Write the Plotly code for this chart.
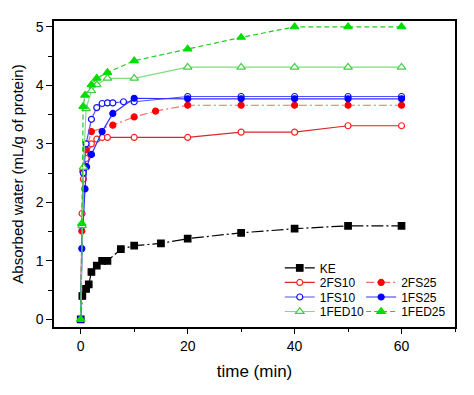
import plotly.graph_objects as go

# ---- data ----
ke_t = [0, 0.3, 1, 1.5, 2, 3, 4, 5, 7.5, 10, 15, 20, 30, 40, 50, 60]
ke_v = [0, 0.40, 0.52, 0.60, 0.81, 0.92, 1.00, 1.00, 1.20, 1.26, 1.30, 1.38, 1.48, 1.55, 1.60, 1.60]

fs2_10_t = [0, 0.25, 0.5, 1, 2, 3, 4, 5, 10, 20, 30, 40, 50, 60]
fs2_10_v = [0, 1.81, 2.40, 2.75, 3.00, 3.08, 3.11, 3.11, 3.11, 3.11, 3.20, 3.20, 3.31, 3.31]

fs2_25_t = [0, 0.2, 0.4, 1, 2, 6, 10, 14, 20, 30, 40, 50, 60]
fs2_25_v = [0, 1.51, 2.53, 2.90, 3.21, 3.32, 3.46, 3.56, 3.66, 3.66, 3.66, 3.66, 3.66]

fs1_10_t = [0, 0.25, 0.5, 1, 2, 3, 4, 5, 6, 8, 10, 20, 30, 40, 50, 60]
fs1_10_v = [0, 1.60, 2.50, 3.00, 3.42, 3.62, 3.69, 3.70, 3.70, 3.72, 3.72, 3.81, 3.81, 3.81, 3.81, 3.81]

fs1_25_t = [0, 0.2, 0.8, 1.1, 2, 4, 6, 10, 20, 30, 40, 50, 60]
fs1_25_v = [0, 1.21, 2.23, 2.61, 2.82, 3.21, 3.52, 3.78, 3.77, 3.77, 3.77, 3.77, 3.77]

fed1_10_t = [0, 0.25, 0.5, 1, 2, 3, 5, 10, 20, 30, 40, 50, 60]
fed1_10_v = [0, 1.60, 2.60, 3.60, 3.91, 4.01, 4.12, 4.12, 4.31, 4.31, 4.31, 4.31, 4.31]

fed1_25_t = [0, 0.2, 0.45, 0.8, 2, 3, 5, 10, 20, 30, 40, 50, 60]
fed1_25_v = [0, 1.64, 3.64, 3.83, 4.01, 4.12, 4.22, 4.42, 4.62, 4.82, 5.00, 5.00, 5.00]

x_ticks = [0, 20, 40, 60]
y_ticks = [0, 1, 2, 3, 4, 5]

FONT = "Arial, Liberation Sans, sans-serif"

# legend slot for each series: (column x in paper coords, row y in paper coords)
COL_L, COL_R = 0.563, 0.766
ROWS = [0.193, 0.1456, 0.0981, 0.0506]

fig = go.Figure()
legend_layouts = {}

def add(name, t, v, symbol, mcolor, lcolor, dash, slot, idx, msize=6, lwidth=1.2, open_=False):
    key = "legend" if idx == 1 else f"legend{idx}"
    fig.add_trace(go.Scatter(
        x=t, y=v, name=name, mode="lines+markers", legend=key,
        line=dict(color=lcolor, width=lwidth, dash=dash),
        marker=dict(symbol=symbol, size=msize,
                    color="white" if open_ else mcolor,
                    line=dict(color=mcolor, width=1.2)),
    ))
    legend_layouts[key] = dict(
        x=slot[0], y=slot[1], xanchor="left", yanchor="middle",
        bgcolor="rgba(0,0,0,0)", borderwidth=0,
        font=dict(family=FONT, size=12, color="black"),
        itemwidth=30,
    )

add("KE", ke_t, ke_v, "square", "black", "black", "12px,3px,2px,3px", (COL_L, ROWS[0]), 1, msize=6.5)
add("2FS10", fs2_10_t, fs2_10_v, "circle", "#ff2020", "#d82828", "solid", (COL_L, ROWS[1]), 2, open_=True)
add("2FS25", fs2_25_t, fs2_25_v, "circle", "#ff0000", "#ff6a6a", "8px,3px,2px,3px", (COL_R, ROWS[1]), 3)
add("1FS10", fs1_10_t, fs1_10_v, "circle", "#1010ff", "#5050ff", "solid", (COL_L, ROWS[2]), 4, open_=True)
add("1FS25", fs1_25_t, fs1_25_v, "circle", "#0000ff", "#3030ff", "solid", (COL_R, ROWS[2]), 5)
add("1FED10", fed1_10_t, fed1_10_v, "triangle-up", "#44cc44", "#80dd80", "solid", (COL_L, ROWS[3]), 6, msize=7.5, open_=True)
add("1FED25", fed1_25_t, fed1_25_v, "triangle-up", "#00dd00", "#20cc20", "5px,3px", (COL_R, ROWS[3]), 7, msize=7.5)

axis_common = dict(
    showline=True, linecolor="black", linewidth=1.5, mirror=True,
    ticks="outside", tickwidth=1.3, tickcolor="black",
    showgrid=False, zeroline=False,
    tickfont=dict(family=FONT, size=14, color="black"),
)

fig.update_xaxes(
    range=[-5, 70], tickvals=x_ticks, ticklen=5,
    minor=dict(ticks="outside", ticklen=3, tickwidth=1.2, tickcolor="black", dtick=10, tick0=0, showgrid=False),
    title=dict(text="time (min)", font=dict(family=FONT, size=17, color="black"), standoff=13),
    **axis_common,
)
fig.update_yaxes(
    range=[-0.13, 5.1], tickvals=y_ticks, ticklen=6,
    minor=dict(ticks="outside", ticklen=4, tickwidth=1.2, tickcolor="black", dtick=0.5, tick0=0, showgrid=False),
    title=dict(text="Absorbed water (mL/g of protein)", font=dict(family=FONT, size=15, color="black"), standoff=8),
    **axis_common,
)

# page body has an 8px default margin, so the figure is sized to fit inside it
fig.update_layout(
    width=458, height=379,
    margin=dict(l=44, r=9, t=13, b=50),
    paper_bgcolor="white", plot_bgcolor="white",
    showlegend=True,
    **legend_layouts,
)

fig.write_html("out.html")
